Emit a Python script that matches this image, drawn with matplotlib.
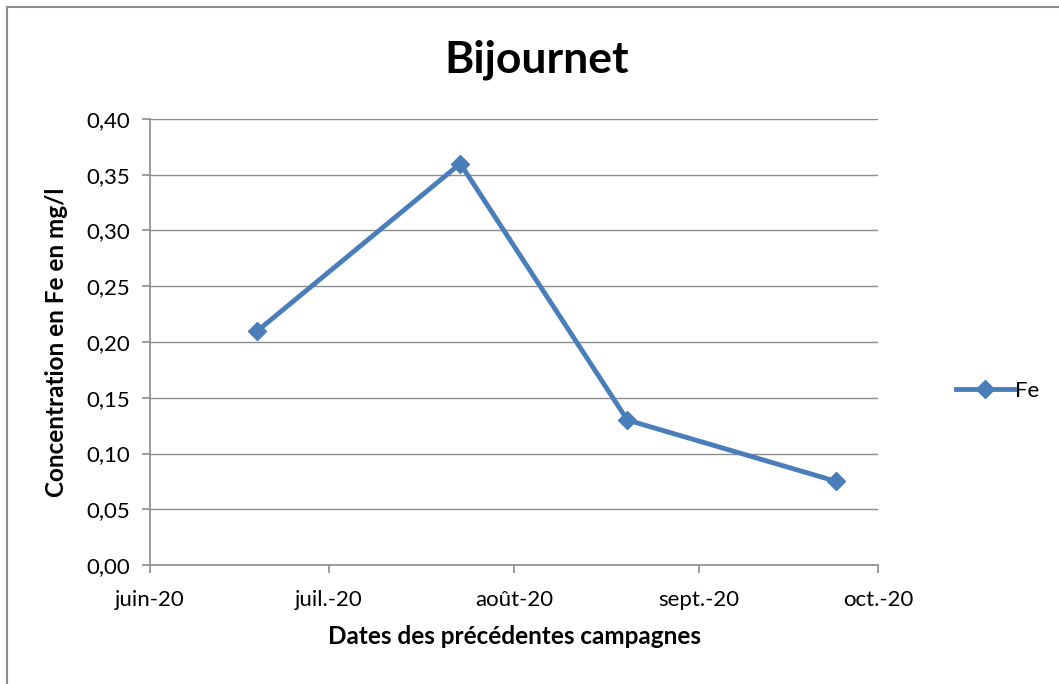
import matplotlib
matplotlib.use('Agg')
import matplotlib.pyplot as plt
from matplotlib.patches import Rectangle
from matplotlib.ticker import FuncFormatter
from datetime import datetime

# Data
dates = [datetime(2020, 6, 19), datetime(2020, 7, 23), datetime(2020, 8, 20), datetime(2020, 9, 24)]
fe_values = [0.21, 0.36, 0.13, 0.075]
month_ticks = [datetime(2020, 6, 1), datetime(2020, 7, 1), datetime(2020, 8, 1),
               datetime(2020, 9, 1), datetime(2020, 10, 1)]
month_labels = ['juin-20', 'juil.-20', 'août-20', 'sept.-20', 'oct.-20']

plt.rcParams['font.family'] = ['Lato', 'DejaVu Sans']

fig = plt.figure(figsize=(10.59, 6.84), dpi=100)
ax = fig.add_axes([150 / 1059, 1 - 565 / 684, 728 / 1059, 446 / 684])

# outer chart frame
fig.patches.append(Rectangle((7 / 1059, -0.05), 1.1, 1 - 7 / 684 + 0.05, transform=fig.transFigure,
                             fill=False, edgecolor='#8c8c8c', linewidth=1.5))

ax.plot(dates, fe_values, color='#4a7ebb', linewidth=3.5, marker='D', markersize=9,
        markerfacecolor='#4a7ebb', markeredgecolor='#4a7ebb', label='Fe')

ax.set_xlim(month_ticks[0], month_ticks[-1])
ax.set_xticks(month_ticks)
ax.set_xticklabels(month_labels)
ax.set_ylim(0, 0.40)
ax.set_yticks([i * 0.05 for i in range(9)])
ax.yaxis.set_major_formatter(FuncFormatter(lambda v, p: f'{v:.2f}'.replace('.', ',')))

ax.grid(axis='y', color='#8c8c8c', linewidth=1)
ax.set_axisbelow(True)
for s in ['top', 'right']:
    ax.spines[s].set_visible(False)
for s in ['left', 'bottom']:
    ax.spines[s].set_color('#8c8c8c')
    ax.spines[s].set_linewidth(1.2)
ax.tick_params(axis='both', colors='#8c8c8c', length=6, width=1.2, labelsize=16, labelcolor='black')
ax.tick_params(axis='x', pad=12)
ax.tick_params(axis='y', pad=8)

# titles and axis labels
fig.text(515 / 1059, 1 - 637 / 684, 'Dates des précédentes campagnes', fontsize=17.5,
         fontweight='bold', ha='center', va='center')
fig.text(56 / 1059, 1 - 342 / 684, 'Concentration en Fe en mg/l', fontsize=17.5,
         fontweight='bold', ha='center', va='center', rotation=90)
fig.text(537 / 1059, 1 - 60 / 684, 'Bijournet', fontsize=32, fontweight='bold', ha='center', va='center')

ax.legend(loc='center left', bbox_to_anchor=(1.08, 0.39), frameon=False, fontsize=16,
          handlelength=2.6, handletextpad=0.05)

plt.savefig('out.png', dpi=100)
